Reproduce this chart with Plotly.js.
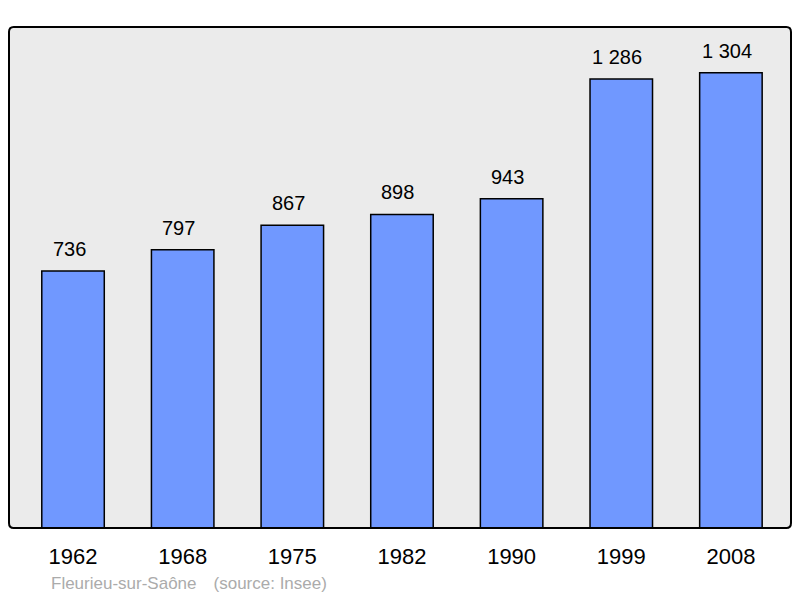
<!DOCTYPE html>
<html><head><meta charset="utf-8">
<script src="https://cdn.plot.ly/plotly-3.0.1.min.js"></script>
<style>body{margin:0;background:#fff}#c{width:800px;height:598px}</style>
</head><body><div id="c"></div>
<script>
const years = ['1962','1968','1975','1982','1990','1999','2008'];
const population = [736, 797, 867, 898, 943, 1286, 1304];
const footer = 'Fleurieu-sur-Saône\u2003(source: Insee)';

function fmt(v){ return String(v).replace(/\B(?=(\d{3})+(?!\d))/g, ' '); }

const FONT = 'Liberation Sans, Arial, sans-serif';
const trace = {
  type:'bar', x: years.map((_, i) => i), y: population,
  width: 0.57,
  marker:{color:'#7098ff', line:{color:'#000', width:1.5}},
  hoverinfo:'none'
};
const annotations = population.map((v,i)=>({
  x:i, y:v, xref:'x', yref:'y', text:fmt(v), showarrow:false,
  yanchor:'bottom', yshift:9, xshift:-4, font:{family:FONT, size:20, color:'#000'}
}));
annotations.push({xref:'paper', yref:'paper', x:0.051, y:-0.088, xanchor:'left', yanchor:'top',
  text:footer, showarrow:false, font:{family:FONT, size:17, color:'#ababab'}});

const layout = {
  width:800, height:598,
  margin:{l:9, r:9, t:27, b:70},
  paper_bgcolor:'#fff', plot_bgcolor:'#ebebeb',
  showlegend:false,
  xaxis:{range:[-0.584, 6.548], tickvals: years.map((_, i) => i), ticktext: years, showgrid:false, zeroline:false,
    ticks:'', ticklabelstandoff:13, tickfont:{family:FONT, size:22, color:'#000'}, fixedrange:true},
  yaxis:{range:[0,1435], showgrid:false, zeroline:false, showticklabels:false, ticks:'', fixedrange:true},
  annotations: annotations,
  shapes:[{type:'path', xref:'paper', yref:'paper',
    path:'M 0.006,0 L 0.994,0 Q 1,0 1,0.01 L 1,0.99 Q 1,1 0.994,1 L 0.006,1 Q 0,1 0,0.99 L 0,0.01 Q 0,0 0.006,0 Z',
    line:{color:'#000', width:2}, fillcolor:'rgba(0,0,0,0)', layer:'above'}]
};
Plotly.newPlot('c',[trace],layout,{displayModeBar:false, staticPlot:true});
</script></body></html>
